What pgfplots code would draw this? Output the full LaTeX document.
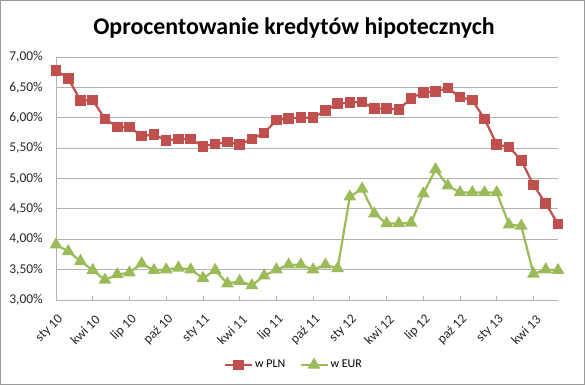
\documentclass[border=0pt]{standalone}
\usepackage{pgfplots}
\pgfplotsset{compat=1.18}
\usepackage{fontspec}
\setmainfont{Carlito}
\definecolor{plnred}{HTML}{C0504D}
\definecolor{eurgreen}{HTML}{9BBB59}
\definecolor{gridgray}{HTML}{B3B3B3}
\begin{document}
\begin{tikzpicture}
\useasboundingbox (-56bp,-85bp) rectangle (529bp,300bp);
\draw[gray!80, line width=0.8bp] (-55.6bp,-84.6bp) rectangle (528.6bp,299.6bp);
\begin{axis}[
  scale only axis,
  width=502bp, height=243bp,
  at={(0,0)}, anchor=south west,
  xmin=0, xmax=41, ymin=3, ymax=7,
  axis x line*=bottom, axis y line*=left,
  axis line style={gridgray, line width=0.8bp},
  xtick={0,3,...,39},
  xticklabels={sty 10,kwi 10,lip 10,paź 10,sty 11,kwi 11,lip 11,paź 11,sty 12,kwi 12,lip 12,paź 12,sty 13,kwi 13},
  xticklabel style={xshift=5bp, yshift=-17bp, rotate=45, anchor=east, font=\fontsize{13.5}{15}\selectfont, inner sep=0bp, color=black!85},
  x tick style={gridgray, line width=0.8bp},
  xtick align=inside,
  major tick length=4bp,
  ytick={3,3.5,...,7},
  yticklabels={3{,}00\%,3{,}50\%,4{,}00\%,4{,}50\%,5{,}00\%,5{,}50\%,6{,}00\%,6{,}50\%,7{,}00\%},
  yticklabel style={font=\fontsize{13.5}{15}\selectfont, color=black!85, inner sep=0bp, xshift=-13bp},
  y tick style={draw=none},
  ymajorgrids,
  grid style={gridgray, line width=0.8bp},
  legend style={at={(0.474,-0.267)}, anchor=center, draw=none, fill=none,
    font=\fontsize{12}{13}\selectfont, legend columns=2,
    /tikz/every even column/.append style={column sep=12bp}},
  legend image code/.code={
    \draw[#1, mark repeat=2, mark phase=2] plot coordinates {(0bp,0bp) (13.5bp,0bp) (27bp,0bp)};
  },
  clip=false,
]
\addplot[color=plnred, line width=2.2bp, mark=square*, mark size=4.2bp, mark options={solid, fill=plnred, draw=plnred}]
coordinates {
(0,6.78)(1,6.65)(2,6.28)(3,6.29)(4,5.98)(5,5.85)(6,5.85)(7,5.70)(8,5.72)(9,5.63)
(10,5.65)(11,5.65)(12,5.53)(13,5.57)(14,5.60)(15,5.56)(16,5.65)(17,5.75)(18,5.96)(19,5.99)
(20,6.00)(21,6.00)(22,6.12)(23,6.23)(24,6.25)(25,6.26)(26,6.15)(27,6.15)(28,6.14)(29,6.32)
(30,6.42)(31,6.43)(32,6.49)(33,6.34)(34,6.29)(35,5.98)(36,5.56)(37,5.52)(38,5.30)(39,4.89)
(40,4.59)(41,4.25)
};
\addlegendentry{w PLN}
\addplot[color=eurgreen, line width=2.2bp, mark=triangle*, mark size=5.2bp, mark options={solid, fill=eurgreen, draw=eurgreen}]
coordinates {
(0,3.91)(1,3.80)(2,3.64)(3,3.49)(4,3.33)(5,3.42)(6,3.45)(7,3.60)(8,3.49)(9,3.50)
(10,3.53)(11,3.50)(12,3.36)(13,3.49)(14,3.27)(15,3.31)(16,3.24)(17,3.40)(18,3.50)(19,3.58)
(20,3.58)(21,3.50)(22,3.58)(23,3.52)(24,4.70)(25,4.83)(26,4.42)(27,4.26)(28,4.26)(29,4.27)
(30,4.75)(31,5.15)(32,4.88)(33,4.77)(34,4.77)(35,4.77)(36,4.77)(37,4.24)(38,4.22)(39,3.43)
(40,3.50)(41,3.49)
};
\addlegendentry{w EUR}
\end{axis}
\node[font=\bfseries\fontsize{24}{27}\selectfont] at (238bp,272bp) {Oprocentowanie kredytów hipotecznych};
\end{tikzpicture}
\end{document}
